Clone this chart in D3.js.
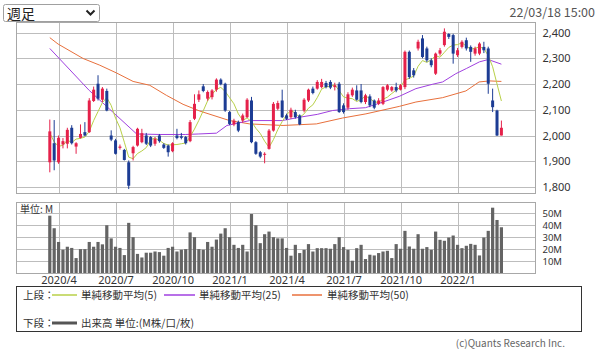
<!DOCTYPE html>
<html>
<head>
<meta charset="utf-8">
<script src="https://cdn.jsdelivr.net/npm/d3@7"></script>
<style>
  body { margin: 0; background: #fff; }
  svg { display: block; font-family: "Noto Sans CJK JP", "Noto Sans", sans-serif; }
</style>
</head>
<body>
<svg id="chart" width="600" height="351"></svg>
<script>
// weekly candles, week of 2020/3/23 .. 2022/3/14
const openP = [1896,1970,1896,1965,1968,2030,1957,1991,2013,2013,2134,2201,2139,2173,2000,1981,1952,1944,1896,1931,
  1961,1974,2000,1994,1968,2000,1965,1961,1939,2000,1997,1994,1978,2065,2139,2191,2143,2149,2178,2217,
  2201,2091,2043,2052,2058,2071,2136,1974,1935,1925,1948,2019,2104,2136,2078,2071,2091,2078,2097,2136,
  2182,2182,2188,2204,2208,2188,2201,2117,2108,2156,2175,2175,2130,2152,2136,2123,2123,2178,2175,2188,
  2178,2188,2325,2253,2338,2377,2338,2292,2240,2318,2351,2394,2390,2312,2344,2370,2344,2318,2318,2344,
  2338,2136,2097,2000];
const highP = [2062,2060,2000,1990,2030,2040,1974,2043,2052,2145,2190,2234,2188,2182,2020,1987,1965,1948,1903,1960,
  2030,2026,2010,1998,1994,2006,1970,1965,1974,2026,2010,1998,2060,2160,2175,2200,2175,2180,2222,2222,
  2205,2095,2065,2058,2085,2145,2150,1978,1940,1935,2025,2130,2135,2178,2085,2108,2100,2082,2145,2182,
  2190,2215,2220,2212,2215,2205,2208,2125,2168,2186,2195,2200,2162,2160,2140,2145,2192,2200,2192,2205,
  2200,2330,2330,2262,2372,2390,2345,2300,2322,2340,2416,2397,2395,2340,2370,2380,2350,2345,2362,2364,
  2345,2182,2100,2058];
const lowP = [1857,1865,1890,1950,1950,1965,1929,1988,1997,2010,2130,2136,2130,2094,1978,1926,1945,1903,1792,1903,
  1957,1970,1963,1955,1960,1972,1948,1918,1935,1985,1985,1965,1974,2060,2130,2168,2135,2140,2170,2195,
  2092,2040,2036,2013,2050,2068,1970,1925,1912,1892,1945,2015,2098,2068,2060,2065,2066,2040,2090,2130,
  2160,2178,2183,2183,2180,2175,2088,2085,2100,2150,2135,2125,2122,2110,2102,2118,2118,2172,2170,2168,
  2175,2180,2220,2225,2330,2300,2285,2265,2235,2310,2345,2375,2279,2305,2338,2330,2286,2310,2312,2320,
  2162,2091,1998,2000];
const closeP = [2016,1903,1991,1978,2022,1970,1970,2006,2000,2136,2178,2143,2182,2097,1984,1929,1957,1905,1805,1955,
  2026,2009,1968,1961,1987,1978,1952,1935,1970,1990,1991,1970,2052,2123,2160,2173,2169,2175,2217,2199,
  2097,2045,2058,2019,2078,2139,1974,1929,1918,1929,2019,2123,2126,2071,2065,2100,2071,2043,2139,2178,
  2165,2208,2208,2188,2186,2195,2091,2091,2160,2178,2139,2130,2156,2117,2108,2136,2188,2195,2188,2175,
  2195,2325,2227,2234,2364,2305,2292,2273,2318,2331,2403,2383,2318,2331,2364,2338,2325,2338,2357,2331,
  2201,2110,2000,2030];
// volume, millions
const volume = [48,37.5,26,19.5,22,21,12.5,20,20,26,22,26,24,40,29,22,21,15,42,30,
  16,13,17,17,18,17.5,14.5,21,22,18,19.5,20,34,30,20,19.5,26,22,28,33,
  37.5,30,23.6,21,23.6,18,49.4,40,25,32.5,34.7,30,29,29,21,14.5,23.6,16.7,19.4,24.2,
  18,20.8,20.8,20.8,20.3,24.2,30,21.7,19.4,10.3,20.8,23.6,11.7,15.3,14.7,16.7,18,18.6,12.5,24.2,
  20.3,35.3,22.2,20.3,32.5,20.3,21.7,19.4,34.7,27.8,27,29.7,31.4,23.6,20.8,22.8,24.4,23.6,14.7,29.7,
  35.3,54.7,44.4,38.3];

// moving averages as [week index, value]
const ma5 = [[1,2010],[2,1975],[3,1958],[4,1962],[5,1982],[6,1973],[7,1986],[8,1989],[9,1994],[10,2016],
  [11,2058],[12,2093],[13,2128],[14,2147],[15,2117],[16,2067],[17,2030],[18,1974],[19,1916],[20,1910],
  [21,1930],[22,1940],[23,1953],[24,1984],[25,1990],[26,1981],[27,1969],[28,1963],[29,1964],[30,1965],
  [31,1968],[32,1971],[33,1995],[34,2025],[35,2059],[36,2096],[37,2135],[38,2160],[39,2179],[40,2187],
  [41,2171],[42,2147],[43,2123],[44,2084],[45,2059],[46,2068],[47,2054],[48,2028],[49,2008],[50,1978],
  [51,1954],[52,1984],[53,2023],[54,2054],[55,2081],[56,2097],[57,2087],[58,2070],[59,2084],[60,2106],
  [61,2119],[62,2147],[63,2180],[64,2189],[65,2191],[66,2197],[67,2174],[68,2150],[69,2145],[70,2143],
  [71,2132],[72,2140],[73,2153],[74,2144],[75,2130],[76,2129],[77,2141],[78,2149],[79,2163],[80,2176],
  [81,2188],[82,2216],[83,2222],[84,2231],[85,2269],[86,2291],[87,2284],[88,2294],[89,2310],[90,2304],
  [91,2323],[92,2342],[93,2351],[94,2353],[95,2360],[96,2347],[97,2335],[98,2339],[99,2344],[100,2338],
  [101,2310],[102,2267],[103,2200],[104,2134]];
const ma25 = [[1,2338],[10,2175],[20.8,2006],[26,2004],[32,2004],[35,2006],[39,2009],[41.4,2039],[46.6,2058],
  [54,2058],[58,2071],[62,2082],[65.5,2097],[69.3,2104],[73,2108],[77,2130],[80.7,2152],[84.5,2182],
  [88.3,2199],[90.6,2208],[93.6,2240],[96,2260],[99,2286],[101,2295],[104,2277]];
const ma50 = [[1,2380],[2.9,2355],[8.6,2299],[12.4,2273],[16.2,2243],[20,2210],[23.8,2195],[27.6,2156],
  [31.4,2121],[35.2,2095],[42,2058],[46.6,2045],[54.2,2039],[61.8,2045],[67.8,2068],[73.1,2084],
  [80.7,2113],[84.5,2130],[90.6,2147],[95.9,2173],[98.9,2208],[101.3,2212],[104,2210]];

const monthTicks = [3,16,29,42,55,68,81,94];
const monthLabels = ["2020/4","2020/7","2020/10","2021/1","2021/4","2021/7","2021/10","2022/1"];
const priceTicks = [1800,1900,2000,2100,2200,2300,2400];
const volTicks = [10,20,30,40,50];

const upColor = "#e5214a", downColor = "#1c3c94";
const ma5Color = "#b8d048", ma25Color = "#a040e0", ma50Color = "#e8703c";
const gridColor = "#bdbdbd";

const svg = d3.select("#chart");
const left = 16.5, right = 535.5;

const x = d3.scaleLinear().domain([1, 104]).range([49.8, 501.4]);
const y = d3.scaleLinear().domain([1800, 2400]).range([187, 32.5]);
const yv = d3.scaleLinear().domain([0, 50]).range([273, 213.3]);

const candles = closeP.map((c, k) => ({
  i: k + 1, open: openP[k], high: highP[k], low: lowP[k], close: c, vol: volume[k]
}));

// top bar: period selector + timestamp
svg.append("rect")
  .attr("x", 3.5).attr("y", 4.5).attr("width", 96).attr("height", 17).attr("rx", 2)
  .attr("fill", "#fff").attr("stroke", "#a0a0a0");
svg.append("text").attr("x", 7).attr("y", 18.5)
  .attr("font-size", 14).attr("fill", "#222").text("週足");
svg.append("path").attr("d", "M86.5,10.5 L90.5,14.5 L94.5,10.5")
  .attr("fill", "none").attr("stroke", "#222").attr("stroke-width", 2);
svg.append("text").attr("x", 595).attr("y", 17).attr("text-anchor", "end")
  .attr("font-size", 12.5).attr("fill", "#555").text("22/03/18 15:00");

// panel grids
function grid(top, bottom, yScale, ticks) {
  const g = svg.append("g");
  g.selectAll(".h").data(ticks).enter().append("line")
    .attr("x1", left).attr("x2", right)
    .attr("y1", d => Math.round(yScale(d)) + 0.5).attr("y2", d => Math.round(yScale(d)) + 0.5)
    .attr("stroke", gridColor);
  g.selectAll(".v").data(monthTicks).enter().append("line")
    .attr("x1", d => Math.round(x(d)) + 0.5).attr("x2", d => Math.round(x(d)) + 0.5)
    .attr("y1", top).attr("y2", bottom)
    .attr("stroke", gridColor);
  g.append("rect").attr("x", left).attr("y", top)
    .attr("width", right - left).attr("height", bottom - top)
    .attr("fill", "none").attr("stroke", "#a8a8a8");
}
grid(22.5, 193.5, y, priceTicks);
grid(202.5, 273.5, yv, volTicks);

// price axis labels
svg.append("g")
  .attr("transform", `translate(${right},0)`)
  .call(d3.axisRight(y).tickValues(priceTicks).tickFormat(d3.format(",")).tickSize(0).tickPadding(7))
  .call(g => g.select(".domain").remove())
  .selectAll("text").attr("font-size", 11).attr("fill", "#333")
  .attr("font-family", "Noto Sans, sans-serif");

// volume axis labels
svg.append("g")
  .attr("transform", `translate(${right},0)`)
  .call(d3.axisRight(yv).tickValues(volTicks).tickFormat(d => d + "M").tickSize(0).tickPadding(7))
  .call(g => g.select(".domain").remove())
  .selectAll("text").attr("font-size", 9.5).attr("fill", "#333")
  .attr("font-family", "Noto Sans, sans-serif");

svg.append("text").attr("x", 20).attr("y", 213)
  .attr("font-size", 10).attr("fill", "#333").text("単位: M");

// month labels
svg.append("g")
  .attr("transform", "translate(0,273)")
  .call(d3.axisBottom(x).tickValues(monthTicks).tickFormat((d, k) => monthLabels[k]).tickSize(0).tickPadding(3))
  .call(g => g.select(".domain").remove())
  .selectAll("text").attr("font-size", 11).attr("fill", "#333")
  .attr("font-family", "Noto Sans, sans-serif");

// volume bars
svg.selectAll(".vol")
  .data(candles)
  .enter()
  .append("rect")
  .attr("class", "vol")
  .attr("x", d => x(d.i) - 1.6)
  .attr("width", 3.2)
  .attr("y", d => yv(d.vol))
  .attr("height", d => yv(0) - yv(d.vol))
  .attr("fill", "#646464");

// moving averages
const maLine = d3.line().x(d => x(d[0])).y(d => y(d[1]));
[[ma50, ma50Color], [ma25, ma25Color], [ma5, ma5Color]].forEach(([data, color]) => {
  svg.append("path")
    .datum(data)
    .attr("fill", "none")
    .attr("stroke", color)
    .attr("stroke-width", 1)
    .attr("d", maLine);
});

// candles
const cg = svg.selectAll(".candle")
  .data(candles)
  .enter()
  .append("g")
  .attr("class", "candle")
  .attr("fill", d => d.close >= d.open ? upColor : downColor)
  .attr("stroke", d => d.close >= d.open ? upColor : downColor);

cg.append("line")
  .attr("x1", d => x(d.i)).attr("x2", d => x(d.i))
  .attr("y1", d => y(d.high)).attr("y2", d => y(d.low))
  .attr("stroke-width", 1);

cg.append("rect")
  .attr("x", d => x(d.i) - 1.5)
  .attr("width", 3)
  .attr("y", d => y(Math.max(d.open, d.close)))
  .attr("height", d => Math.max(1, Math.abs(y(d.open) - y(d.close))))
  .attr("stroke", "none");

// legend
const lg = svg.append("g");
lg.append("rect").attr("x", 16.5).attr("y", 286.5).attr("width", 565).attr("height", 45)
  .attr("fill", "#fff").attr("stroke", "#333");
const legendRows = [
  { y: 295, label: "上段：", items: [
    { x1: 52, x2: 77, color: ma5Color, w: 1.5, text: "単純移動平均(5)", tx: 81 },
    { x1: 164, x2: 195, color: ma25Color, w: 1.5, text: "単純移動平均(25)", tx: 199 },
    { x1: 292, x2: 322, color: ma50Color, w: 1.5, text: "単純移動平均(50)", tx: 327 }
  ]},
  { y: 323, label: "下段：", items: [
    { x1: 52, x2: 77, color: "#555", w: 3, text: "出来高 単位:(M株/口/枚)", tx: 81 }
  ]}
];
legendRows.forEach(row => {
  lg.append("text").attr("x", 23).attr("y", row.y + 4)
    .attr("font-size", 10.5).attr("fill", "#333").text(row.label);
  row.items.forEach(it => {
    lg.append("line").attr("x1", it.x1).attr("x2", it.x2)
      .attr("y1", row.y).attr("y2", row.y)
      .attr("stroke", it.color).attr("stroke-width", it.w);
    lg.append("text").attr("x", it.tx).attr("y", row.y + 4)
      .attr("font-size", 10.5).attr("fill", "#333").text(it.text);
  });
});

svg.append("text").attr("x", 565).attr("y", 346.5).attr("text-anchor", "end")
  .attr("font-size", 10).attr("fill", "#666").text("(c)Quants Research Inc.");
</script>
</body>
</html>
